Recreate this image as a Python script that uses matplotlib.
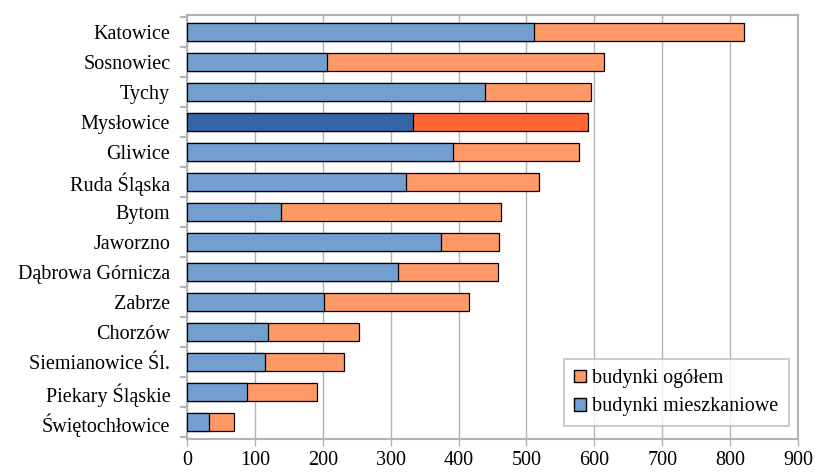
import numpy as np
import matplotlib.pyplot as plt
from matplotlib.patches import Patch

cities = ['Katowice', 'Sosnowiec', 'Tychy', 'Mysłowice', 'Gliwice', 'Ruda Śląska',
          'Bytom', 'Jaworzno', 'Dąbrowa Górnicza', 'Zabrze', 'Chorzów',
          'Siemianowice Śl.', 'Piekary Śląskie', 'Świętochłowice']
ogolem = [820, 614, 595, 590, 577, 519, 463, 459, 458, 416, 253, 232, 192, 69]
mieszkalne = [511, 207, 439, 333, 392, 322, 139, 374, 311, 202, 120, 115, 88, 32]
highlight = 'Mysłowice'

plt.rcParams['font.family'] = ['Liberation Serif', 'DejaVu Serif']
fs = 14.5

fig = plt.figure(figsize=(8.15, 4.73), dpi=100)
ax = fig.add_axes([0.2294, 0.0719, 0.7497, 0.896])

y = np.arange(len(cities))
c_org = ['#ff6633' if c == highlight else '#ff9966' for c in cities]
c_res = ['#3465a4' if c == highlight else '#729fcf' for c in cities]

ax.barh(y, ogolem, height=0.6, color=c_org, edgecolor='black', linewidth=0.9, zorder=2)
ax.barh(y, mieszkalne, height=0.6, color=c_res, edgecolor='black', linewidth=0.9, zorder=3)

ax.set_xlim(0, 900)
ax.set_ylim(len(cities) - 0.45, -0.55)
ax.set_xticks(np.arange(0, 901, 100))
ax.set_yticks(y)
ax.set_yticklabels(cities, fontsize=fs)
ax.set_yticks(np.arange(-0.5, len(cities), 1), minor=True)
ax.tick_params(axis='y', which='major', length=0, pad=12)
ax.tick_params(axis='y', which='minor', length=5, color='#b3b3b3', width=1.5)
ax.tick_params(axis='x', length=5, color='#b3b3b3', labelsize=fs, pad=3.5, width=1)

ax.grid(axis='x', color='#b3b3b3', linewidth=1, zorder=0)
ax.set_axisbelow(True)
for s in ax.spines.values():
    s.set_color('#b3b3b3')
    s.set_linewidth(1.5)

handles = [Patch(facecolor='#ff9966', edgecolor='black', label='budynki ogółem'),
           Patch(facecolor='#729fcf', edgecolor='black', label='budynki mieszkaniowe')]
leg = ax.legend(handles=handles, loc='lower right', bbox_to_anchor=(0.985, 0.03),
                fontsize=fs, frameon=True, fancybox=False, edgecolor='#b3b3b3',
                handlelength=0.6, handleheight=0.6, handletextpad=0.3, labelspacing=0.45,
                borderpad=0.5, borderaxespad=0)
leg.get_frame().set_linewidth(1.2)

fig.savefig('out.png', dpi=100)
